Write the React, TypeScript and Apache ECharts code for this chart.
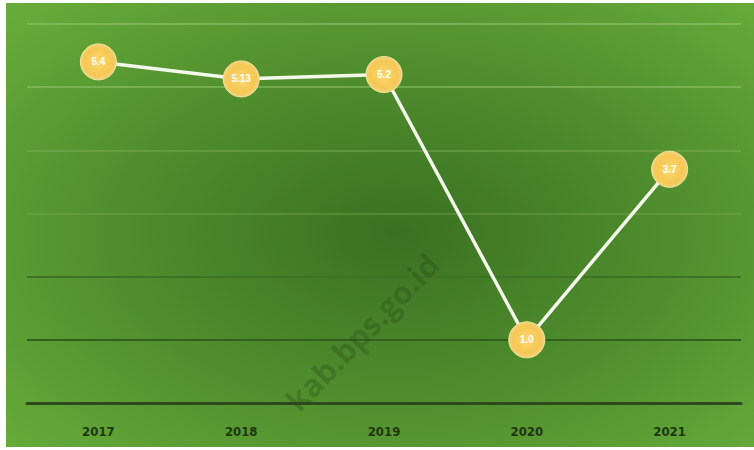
import React, { useEffect, useRef } from "react";
import * as echarts from "echarts";

const years = ["2017", "2018", "2019", "2020", "2021"];
const values = [5.4, 5.13, 5.2, 1.0, 3.7];
const valueLabels = ["5.4", "5.13", "5.2", "1.0", "3.7"];
const gridColors = ["rgba(0,0,0,0)", "#335f1e", "#3f7226", "rgba(120,170,80,0.4)", "rgba(130,180,90,0.4)", "rgba(150,200,110,0.5)", "rgba(150,200,110,0.55)"];

export default function App() {
  const ref = useRef<HTMLDivElement>(null);
  useEffect(() => {
    const chart = echarts.init(ref.current!, null, { renderer: "svg" });
    chart.setOption({
      animation: false,
      backgroundColor: "#ffffff",
      graphic: [
        {
          type: "rect",
          z: -10,
          shape: { x: 6, y: 3, width: 748, height: 444 },
          style: {
            fill: new echarts.graphic.RadialGradient(0.52, 0.52, 0.9, [
              { offset: 0, color: "#3b7022" },
              { offset: 0.4, color: "#4f8d2d" },
              { offset: 0.75, color: "#64a838" },
              { offset: 1, color: "#70b740" },
            ]),
          },
        },
        {
          type: "text",
          z: 1,
          x: 362,
          y: 332,
          rotation: (46 * Math.PI) / 180,
          style: {
            text: "kab.bps.go.id",
            font: "bold 31px 'Open Sans', sans-serif",
            fill: "rgba(35,65,18,0.28)",
            align: "center",
            verticalAlign: "middle",
          },
        },
      ],
      grid: { left: 27, right: 13, top: 24, bottom: 47 },
      xAxis: {
        type: "category",
        data: years,
        boundaryGap: true,
        axisLine: { lineStyle: { color: "#2c4a1e", width: 3 } },
        axisTick: { show: false },
        axisLabel: {
          color: "#1d3610",
          fontSize: 13,
          fontWeight: "bold",
          fontFamily: "'Liberation Sans Narrow', 'DejaVu Sans Condensed', sans-serif",
          margin: 22,
        },
      },
      yAxis: {
        type: "value",
        min: 0,
        max: 6,
        interval: 1,
        axisLabel: { show: false },
        axisLine: { show: false },
        axisTick: { show: false },
        splitLine: { lineStyle: { color: gridColors, width: 2 } },
      },
      series: [
        {
          type: "line",
          data: values,
          z: 5,
          symbol: "circle",
          symbolSize: 36,
          lineStyle: { color: "#f3f8ea", width: 3.5 },
          itemStyle: {
            color: new echarts.graphic.RadialGradient(0.5, 0.5, 0.5, [
              { offset: 0, color: "#fcd86e" },
              { offset: 0.75, color: "#f6c753" },
              { offset: 1, color: "#f0d37a" },
            ]),
            borderColor: "#f7e39a",
            borderWidth: 1,
          },
          label: {
            show: true,
            position: "inside",
            formatter: (p: any) => valueLabels[p.dataIndex],
            color: "#ffffff",
            fontSize: 10,
            fontWeight: "bold",
            fontFamily: "'Liberation Sans', sans-serif",
          },
        },
      ],
    });
    return () => chart.dispose();
  }, []);
  return (
    <div
      ref={ref}
      style={{ position: "absolute", left: 0, top: 0, width: 754, height: 450 }}
    />
  );
}
